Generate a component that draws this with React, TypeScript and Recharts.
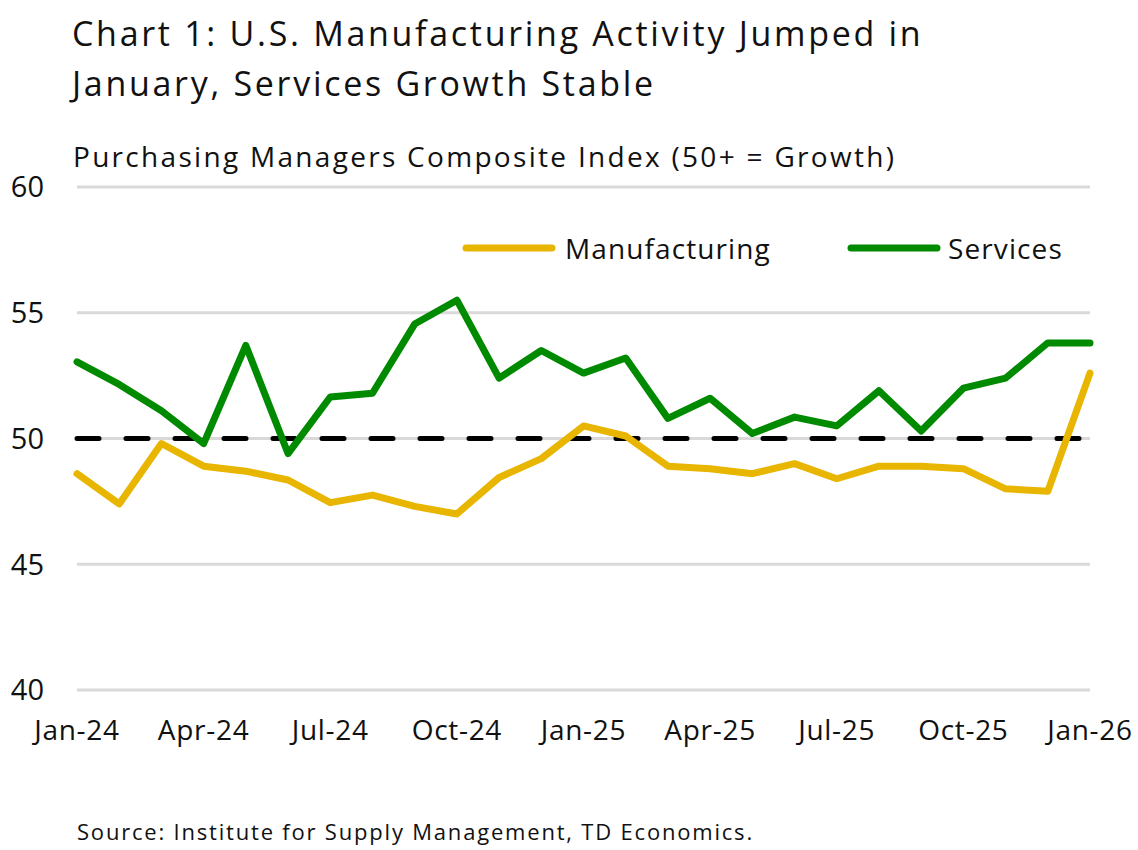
import React from 'react';
import { LineChart, Line, XAxis, YAxis, CartesianGrid, ReferenceLine } from 'recharts';

const months = ['Jan-24','Feb-24','Mar-24','Apr-24','May-24','Jun-24','Jul-24','Aug-24','Sep-24','Oct-24','Nov-24','Dec-24','Jan-25','Feb-25','Mar-25','Apr-25','May-25','Jun-25','Jul-25','Aug-25','Sep-25','Oct-25','Nov-25','Dec-25','Jan-26'];
const manufacturing = [48.6, 47.4, 49.8, 48.9, 48.7, 48.35, 47.45, 47.75, 47.3, 47.0, 48.45, 49.2, 50.5, 50.1, 48.9, 48.8, 48.6, 49.0, 48.4, 48.9, 48.9, 48.8, 48.0, 47.9, 52.6];
const services = [53.05, 52.15, 51.1, 49.8, 53.7, 49.4, 51.65, 51.8, 54.55, 55.5, 52.4, 53.5, 52.6, 53.2, 50.8, 51.6, 50.2, 50.85, 50.5, 51.9, 50.3, 52.0, 52.4, 53.8, 53.8];
const yTicks = [40, 45, 50, 55, 60];
const growthThreshold = 50;

const data = months.map((m, i) => ({ month: m, manufacturing: manufacturing[i], services: services[i] }));

const FONT = '"Open Sans", sans-serif';
const GOLD = '#E8B500';
const GREEN = '#008A00';

export default function App() {
  return (
    <div style={{ position: 'absolute', left: 0, top: 0, width: 1138, height: 850, background: '#fff', fontFamily: FONT, color: '#111' }}>
      <div style={{ position: 'absolute', left: 72, top: 8, fontSize: 34, lineHeight: '50px', letterSpacing: 2.7, whiteSpace: 'nowrap' }}>
        Chart 1: U.S. Manufacturing Activity Jumped in<br />January, Services Growth Stable
      </div>
      <div style={{ position: 'absolute', left: 73, top: 137, fontSize: 28, lineHeight: '38px', letterSpacing: 2.3, whiteSpace: 'nowrap' }}>
        Purchasing Managers Composite Index (50+ = Growth)
      </div>
      <div style={{ position: 'absolute', left: 77, top: 816, fontSize: 22, lineHeight: '30px', letterSpacing: 1.8, whiteSpace: 'nowrap' }}>
        Source: Institute for Supply Management, TD Economics.
      </div>
      <div style={{ position: 'absolute', left: 0, top: 0 }}>
        <LineChart width={1138} height={850} data={data} margin={{ top: 187, right: 48, bottom: 100, left: 17 }}>
          <CartesianGrid horizontal={true} vertical={false} stroke="#d9d9d9" strokeWidth={3} />
          <XAxis dataKey="month" interval={2} tickLine={false} axisLine={false} tickSize={0} tickMargin={30} height={60}
            tick={{ fontSize: 28, fill: '#111', fontFamily: FONT, style: { letterSpacing: 0.7 } }} />
          <YAxis domain={[40, 60]} ticks={yTicks} tickLine={false} axisLine={false} tickSize={0} tickMargin={33} width={60}
            tick={{ fontSize: 29, fill: '#111', fontFamily: FONT }} />
          <ReferenceLine y={growthThreshold} stroke="#000" strokeWidth={5} strokeDasharray="22 27" strokeLinecap="round" />
          <Line type="linear" dataKey="manufacturing" name="Manufacturing" stroke={GOLD} strokeWidth={7} dot={false} isAnimationActive={false} strokeLinejoin="round" strokeLinecap="round" />
          <Line type="linear" dataKey="services" name="Services" stroke={GREEN} strokeWidth={7} dot={false} isAnimationActive={false} strokeLinejoin="round" strokeLinecap="round" />
        </LineChart>
      </div>
      <svg width={1138} height={60} style={{ position: 'absolute', left: 0, top: 218 }}>
        <line x1={466} y1={30} x2={552} y2={30} stroke={GOLD} strokeWidth={7} strokeLinecap="round" />
        <text x={565} y={30} dominantBaseline="central" fontSize={28} letterSpacing={1.1} fill="#111" fontFamily={FONT}>Manufacturing</text>
        <line x1={851} y1={30} x2={937} y2={30} stroke={GREEN} strokeWidth={7} strokeLinecap="round" />
        <text x={948} y={30} dominantBaseline="central" fontSize={28} letterSpacing={1.1} fill="#111" fontFamily={FONT}>Services</text>
      </svg>
    </div>
  );
}
